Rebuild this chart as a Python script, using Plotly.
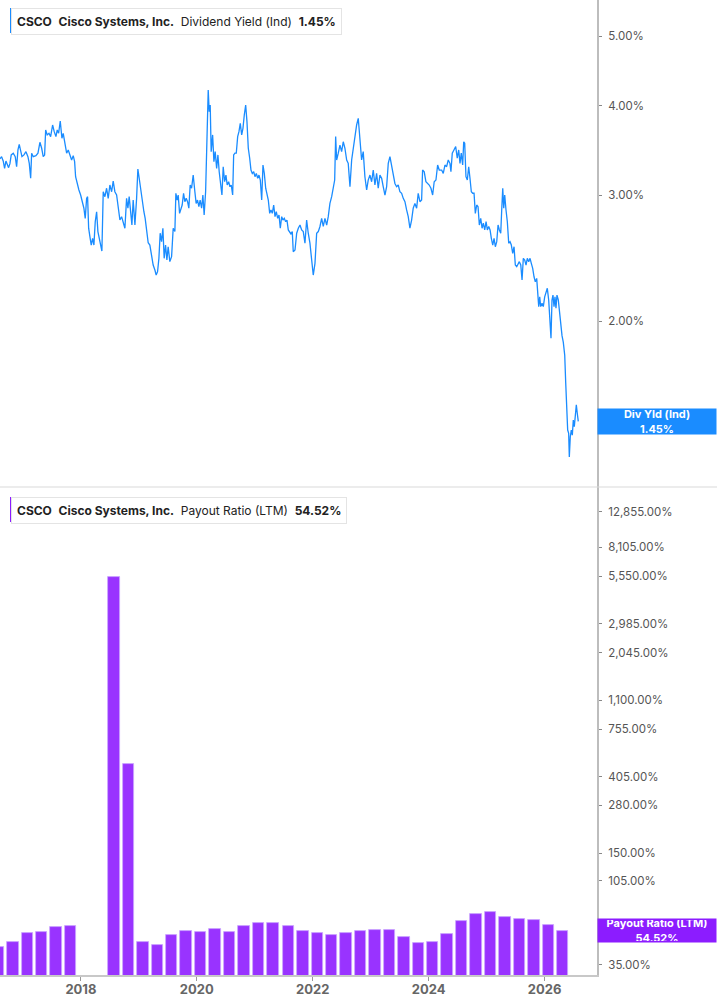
import math
import pandas as pd
import plotly.graph_objects as go

# ---------------- data ----------------
dy_years = [
2016.602,2016.631,2016.659,2016.683,2016.706,2016.728,2016.752,2016.775,2016.797,2016.832,2016.866,2016.890,2016.913,2016.935,2016.959,2016.982,
2017.016,2017.051,2017.085,2017.108,2017.132,2017.149,2017.177,2017.223,2017.258,2017.292,2017.322,2017.349,2017.373,2017.391,2017.418,2017.448,
2017.477,2017.511,2017.539,2017.568,2017.591,2017.615,2017.643,2017.672,2017.694,2017.724,2017.753,2017.781,2017.810,2017.839,2017.867,2017.891,
2017.908,2017.936,2017.965,2017.995,2018.022,2018.051,2018.074,2018.098,2018.115,2018.133,2018.155,2018.178,2018.202,2018.224,2018.247,2018.271,
2018.293,2018.316,2018.340,2018.362,2018.385,2018.414,2018.443,2018.471,2018.500,2018.530,2018.557,2018.586,2018.616,2018.643,2018.673,2018.702,
2018.730,2018.759,2018.788,2018.811,2018.833,2018.857,2018.880,2018.902,2018.932,2018.961,2018.983,2019.006,2019.030,2019.058,2019.087,2019.109,
2019.133,2019.161,2019.190,2019.220,2019.247,2019.277,2019.299,2019.323,2019.346,2019.368,2019.392,2019.415,2019.437,2019.461,2019.484,2019.506,
2019.535,2019.565,2019.593,2019.622,2019.639,2019.662,2019.679,2019.703,2019.725,2019.748,2019.772,2019.794,2019.817,2019.841,2019.863,2019.886,
2019.910,2019.938,2019.967,2019.989,2020.013,2020.036,2020.058,2020.083,2020.105,2020.127,2020.152,2020.169,2020.186,2020.197,2020.214,2020.231,
2020.248,2020.273,2020.295,2020.317,2020.342,2020.364,2020.386,2020.410,2020.433,2020.455,2020.480,2020.502,2020.524,2020.549,2020.571,2020.593,
2020.618,2020.635,2020.657,2020.680,2020.704,2020.726,2020.749,2020.773,2020.795,2020.818,2020.842,2020.864,2020.887,2020.911,2020.933,2020.956,
2020.980,2021.002,2021.025,2021.049,2021.071,2021.094,2021.118,2021.140,2021.163,2021.187,2021.209,2021.232,2021.256,2021.278,2021.301,2021.325,
2021.348,2021.370,2021.394,2021.417,2021.439,2021.463,2021.485,2021.508,2021.532,2021.554,2021.577,2021.601,2021.623,2021.646,2021.663,2021.693,
2021.722,2021.750,2021.779,2021.808,2021.836,2021.865,2021.894,2021.922,2021.951,2021.981,2022.008,2022.038,2022.067,2022.095,2022.124,2022.153,
2022.181,2022.210,2022.240,2022.267,2022.296,2022.326,2022.354,2022.378,2022.395,2022.412,2022.440,2022.469,2022.498,2022.526,2022.555,2022.585,
2022.612,2022.642,2022.671,2022.699,2022.728,2022.757,2022.785,2022.814,2022.843,2022.871,2022.900,2022.930,2022.957,2022.987,2023.016,2023.044,
2023.073,2023.102,2023.130,2023.159,2023.189,2023.216,2023.246,2023.275,2023.303,2023.332,2023.361,2023.389,2023.418,2023.447,2023.475,2023.504,
2023.534,2023.562,2023.591,2023.620,2023.648,2023.677,2023.706,2023.734,2023.763,2023.793,2023.820,2023.850,2023.879,2023.896,2023.924,2023.953,
2023.982,2024.010,2024.040,2024.069,2024.096,2024.126,2024.155,2024.183,2024.224,2024.252,2024.281,2024.310,2024.338,2024.367,2024.384,2024.407,
2024.436,2024.466,2024.493,2024.518,2024.540,2024.562,2024.586,2024.604,2024.621,2024.643,2024.666,2024.690,2024.712,2024.735,2024.759,2024.782,
2024.804,2024.828,2024.851,2024.873,2024.897,2024.920,2024.942,2024.966,2024.989,2025.011,2025.035,2025.058,2025.080,2025.104,2025.127,2025.149,
2025.173,2025.196,2025.218,2025.242,2025.259,2025.277,2025.294,2025.311,2025.333,2025.356,2025.380,2025.403,2025.425,2025.449,2025.472,2025.494,
2025.518,2025.541,2025.563,2025.588,2025.610,2025.632,2025.656,2025.679,2025.701,2025.725,2025.748,2025.770,2025.794,2025.817,2025.839,2025.863,
2025.881,2025.898,2025.915,2025.932,2025.955,2025.977,2026.001,2026.024,2026.046,2026.070,2026.093,2026.110,2026.127,2026.144,2026.162,2026.179,
2026.196,2026.213,2026.236,2026.253,2026.278,2026.300,2026.322,2026.347,2026.364,2026.381,2026.398,2026.415,2026.426,2026.443,2026.460,2026.478,
2026.495,2026.512,2026.530,2026.547,2026.564,2026.581]

dy_values = [
3.371,3.396,3.349,3.271,3.349,3.306,3.278,3.320,3.415,3.434,3.396,3.288,3.470,3.534,3.451,3.396,
3.415,3.451,3.396,3.324,3.168,3.434,3.396,3.407,3.434,3.557,3.489,3.396,3.415,3.700,3.642,3.661,
3.622,3.760,3.680,3.622,3.700,3.661,3.809,3.603,3.661,3.545,3.434,3.470,3.415,3.360,3.407,3.342,
3.184,3.100,3.051,3.002,2.938,2.877,2.785,2.970,2.986,2.698,2.626,2.556,2.612,2.556,2.755,2.845,
2.669,2.612,2.584,2.507,3.034,2.986,3.068,2.970,3.100,3.034,3.140,3.034,3.002,2.861,2.770,2.800,
2.755,2.698,2.970,2.877,2.986,2.830,2.726,2.954,2.726,2.970,3.264,3.168,3.051,2.954,2.845,2.785,
2.698,2.575,2.556,2.462,2.397,2.359,2.321,2.346,2.449,2.655,2.584,2.698,2.449,2.556,2.436,2.542,
2.423,2.462,2.698,2.669,3.019,2.954,3.002,2.830,2.861,2.907,3.019,2.938,2.970,2.938,2.877,3.100,
3.068,3.201,3.034,2.922,2.954,2.891,2.954,2.877,3.002,2.815,3.034,3.489,3.680,4.208,3.925,4.010,
3.451,3.642,3.342,3.451,3.271,3.415,3.235,3.100,3.002,3.288,3.133,3.201,3.100,3.133,3.083,3.100,
3.002,3.415,3.434,3.434,3.622,3.680,3.780,3.642,3.720,3.883,4.010,3.801,3.489,3.379,3.253,3.218,
3.235,3.184,3.218,3.168,3.201,3.150,2.954,3.306,3.218,3.068,3.002,2.954,2.830,2.861,2.830,2.907,
2.800,2.845,2.785,2.815,2.698,2.800,2.770,2.785,2.755,2.770,2.683,2.669,2.649,2.669,2.501,2.515,
2.655,2.698,2.726,2.683,2.669,2.571,2.770,2.655,2.571,2.436,2.321,2.410,2.655,2.669,2.713,2.785,
2.713,2.785,2.726,2.800,2.922,2.986,3.068,3.150,3.622,3.360,3.434,3.525,3.451,3.563,3.489,3.360,
3.324,3.083,3.360,3.507,3.622,3.760,3.842,3.622,3.360,3.451,3.184,3.051,3.150,3.201,3.133,3.253,
3.100,3.218,3.068,3.201,3.168,3.083,3.002,3.083,3.324,3.396,3.306,3.184,3.116,3.083,3.100,3.034,
3.019,2.970,2.938,2.861,2.800,2.698,2.770,2.877,2.922,2.877,3.019,2.938,2.954,3.253,3.235,3.133,
3.116,3.100,3.068,3.002,3.133,3.150,3.306,3.253,3.253,3.218,3.306,3.288,3.360,3.324,3.235,3.434,
3.470,3.507,3.379,3.470,3.324,3.434,3.306,3.563,3.545,3.184,3.150,3.288,3.168,3.034,3.019,3.019,
2.830,2.907,2.891,2.726,2.785,2.698,2.742,2.683,2.755,2.683,2.713,2.683,2.612,2.556,2.612,2.542,
2.584,2.726,2.683,2.655,2.861,3.068,2.877,3.002,2.861,2.755,2.571,2.584,2.556,2.489,2.542,2.397,
2.384,2.410,2.423,2.397,2.284,2.449,2.436,2.397,2.449,2.423,2.449,2.410,2.371,2.308,2.271,2.296,
2.142,2.097,2.164,2.097,2.119,2.097,2.164,2.200,2.224,2.142,2.008,1.894,2.142,2.176,2.097,2.164,
2.087,2.176,2.142,2.063,1.995,1.910,1.870,1.793,1.640,1.472,1.410,1.395,1.293,1.380,1.410,1.387,
1.456,1.425,1.487,1.529,1.487,1.450]

pr_dates = ['2016-07-30','2016-10-29','2017-01-28','2017-04-29','2017-07-29','2017-10-28',
            '2018-07-28','2018-10-27','2019-01-26','2019-04-27','2019-07-27','2019-10-26',
            '2020-01-25','2020-04-25','2020-07-25','2020-10-24','2021-01-23','2021-04-24',
            '2021-07-31','2021-10-30','2022-01-29','2022-04-30','2022-07-30','2022-10-29',
            '2023-01-28','2023-04-29','2023-07-29','2023-10-28','2024-01-27','2024-04-27',
            '2024-07-27','2024-10-26','2025-01-25','2025-04-26','2025-07-26','2025-10-25',
            '2026-01-24','2026-04-25']
pr_values = [44.1,46.9,52.9,53.6,57.2,58.2,
             5480.0,480.0,47.1,45.4,51.5,54.1,
             53.8,55.5,53.6,58.0,60.0,60.0,
             58.2,54.3,52.7,51.7,52.7,54.1,
             55.0,54.7,50.0,46.6,47.1,52.4,
             61.9,68.1,69.6,65.4,63.3,62.7,
             58.7,54.52]

dy_ticks = [2, 3, 4, 5]
pr_ticks = [35, 105, 150, 280, 405, 755, 1100, 2045, 2985, 5550, 8105, 12855]
year_ticks = ['2018-01-01', '2020-01-01', '2022-01-01', '2024-01-01', '2026-01-01']
year_labels = ['2018', '2020', '2022', '2024', '2026']

last_dy = 1.45
last_pr = 54.52

# ---------------- helpers ----------------
def dec_to_date(d):
    y = int(d)
    s = pd.Timestamp(y, 1, 1)
    e = pd.Timestamp(y + 1, 1, 1)
    return s + (e - s) * (d - y)

dy_dates = [dec_to_date(v) for v in dy_years]

BLUE = '#1a8cff'
PURPLE = '#9933ff'
PURPLE_D = '#8c1cff'
FONT = 'Inter, Roboto, sans-serif'

fig = go.Figure()
fig.add_trace(go.Scatter(x=dy_dates, y=dy_values, mode='lines',
                         line=dict(color=BLUE, width=1.3), xaxis='x', yaxis='y',
                         showlegend=False, hoverinfo='skip'))
fig.add_trace(go.Bar(x=pd.to_datetime(pr_dates), y=pr_values, xaxis='x', yaxis='y2',
                     marker=dict(color=PURPLE, line=dict(color='#c9a6ff', width=0.8)),
                     width=72 * 86400000, showlegend=False, hoverinfo='skip'))

H_PLOT = 975.0
split = 487.0
dom_split = 1 - split / H_PLOT

axis_common = dict(type='log', side='right', showgrid=False, zeroline=False,
                   showline=True, linecolor='#bdbdbd', linewidth=2,
                   ticks='outside', ticklen=3, tickcolor='#888', tickwidth=1,
                   ticklabelstandoff=4,
                   tickfont=dict(family=FONT, size=11.5, color='#555'))

fig.update_layout(
    width=717, height=1005,
    margin=dict(l=0, r=120, t=0, b=30),
    paper_bgcolor='white', plot_bgcolor='white',
    bargap=0,
    xaxis=dict(type='date', anchor='y2', range=['2016-08-09', '2026-11-27'],
               showgrid=False, zeroline=False, showline=True, linecolor='#c8c8c8', linewidth=1.5,
               ticks='outside', ticklen=4, tickcolor='#999',
               ticklabelstandoff=-2,
               tickvals=year_ticks, ticktext=year_labels,
               tickfont=dict(family=FONT, size=13, color='#666', weight='bold')),
    yaxis=dict(domain=[dom_split, 1], anchor='x',
               range=[math.log10(1.174), math.log10(5.62)],
               tickvals=dy_ticks, ticktext=[f'{v:.2f}%' for v in dy_ticks],
               **axis_common),
    yaxis2=dict(domain=[0, dom_split], anchor='x',
                range=[1.4856, 4.2505],
                tickvals=pr_ticks, ticktext=[f'{v:,.2f}%' for v in pr_ticks],
                **axis_common),
)

# separator line between panels
fig.add_shape(type='line', xref='paper', yref='paper', x0=0, x1=717 / 597,
              y0=dom_split, y1=dom_split, line=dict(color='#d9d9d9', width=1))

def legend_box(ypix, color, metric, value):
    ytop = 1 - ypix / H_PLOT
    fig.add_annotation(xref='paper', yref='paper', x=10.5 / 597, y=ytop,
                       xanchor='left', yanchor='top', showarrow=False,
                       text=f'<b>CSCO</b>  <b>Cisco Systems, Inc.</b>  {metric}  <b>{value}</b>',
                       font=dict(family=FONT, size=12, color='#222'),
                       bgcolor='white', bordercolor='#e4e4e4', borderwidth=1, borderpad=5)
    fig.add_shape(type='rect', xref='paper', yref='paper', x0=10 / 597, x1=13 / 597,
                  y0=1 - (ypix + 25) / H_PLOT, y1=ytop, fillcolor=color, line=dict(width=0))

legend_box(8, BLUE, 'Dividend Yield (Ind)', f'{last_dy:.2f}%')
legend_box(497, PURPLE_D, 'Payout Ratio (LTM)', f'{last_pr:.2f}%')

# last value labels on the right axis
fig.add_annotation(xref='paper', yref='y', x=1.0, y=math.log10(last_dy),
                   xanchor='left', yanchor='middle', showarrow=False,
                   text=f'<b>Div Yld (Ind)</b><br><b>{last_dy:.2f}%</b>',
                   font=dict(family=FONT, size=11, color='white'),
                   bgcolor=BLUE, width=116, height=23, borderpad=1)
fig.add_annotation(xref='paper', yref='y2', x=1.0, y=math.log10(last_pr),
                   xanchor='left', yanchor='middle', showarrow=False,
                   text=f'<b>Payout Ratio (LTM)</b><br><b>{last_pr:.2f}%</b>',
                   font=dict(family=FONT, size=11, color='white'),
                   bgcolor=PURPLE_D, width=116, height=21, borderpad=1)

fig.write_html('out.html', config={'displayModeBar': False},
               post_script="document.body.style.margin='0';document.body.style.overflow='hidden';")
